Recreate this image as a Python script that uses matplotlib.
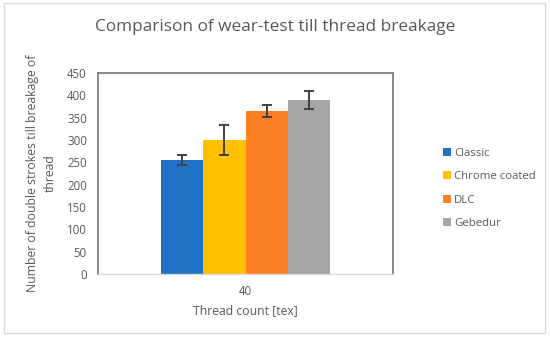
import matplotlib
matplotlib.use("Agg")
import matplotlib.pyplot as plt
from matplotlib.patches import Rectangle

categories = ["40"]
series = ["Classic", "Chrome coated", "DLC", "Gebedur"]
values = [255, 300, 365, 389]
errors = [11, 33, 13, 20]
colors = ["#1F72C6", "#FFC000", "#FF7F27", "#A5A5A5"]
yticks = [0, 50, 100, 150, 200, 250, 300, 350, 400, 450]

plt.rcParams['font.family'] = ['Open Sans', 'DejaVu Sans']
txt = "#595959"

fig = plt.figure(figsize=(5.5, 3.39), dpi=100)
fig.patches.append(Rectangle((4/550, 6/339), 541/550, 330/339, transform=fig.transFigure,
                             fill=False, edgecolor="#D9D9D9", linewidth=1))
ax = fig.add_axes([98/550, 1-274/339, 295/550, 201/339])

w = 0.1434
n = len(series)
for i, (s, v, e, c) in enumerate(zip(series, values, errors, colors)):
    x = (i - (n - 1) / 2) * w
    ax.bar(x, v, width=w, color=c, label=s, zorder=2)
    ax.errorbar(x, v, yerr=e, ecolor="#404040", elinewidth=1.4, capsize=3.5,
                capthick=1.4, fmt="none", zorder=3)

ax.set_xlim(-0.5, 0.5)
ax.set_ylim(0, 450)
ax.set_yticks(yticks)
ax.set_xticks([0])
ax.set_xticklabels(categories)
ax.tick_params(axis="y", length=0, labelsize=8.3, colors=txt, pad=8)
ax.tick_params(axis="x", length=0, labelsize=8.3, colors=txt, pad=8)
for sp in ["top", "left", "right"]:
    ax.spines[sp].set_color("#7F7F7F")
    ax.spines[sp].set_linewidth(1.3)
ax.spines["bottom"].set_color("#D9D9D9")
ax.spines["bottom"].set_linewidth(1)

ax.set_xlabel("Thread count [tex]", fontsize=8.8, color=txt, labelpad=4)
ax.set_ylabel("Number of double strokes till breakage of\nthread", fontsize=8.8,
              color=txt, labelpad=7, linespacing=1.5)
fig.text(275/550, 1-27/339, "Comparison of wear-test till thread breakage",
         ha="center", va="center", fontsize=12.4, color=txt)

leg = ax.legend(loc="upper left", bbox_to_anchor=(438/550, 1-143/339),
                bbox_transform=fig.transFigure, frameon=False, fontsize=8.2,
                handlelength=0.7, handleheight=0.7, handletextpad=0.3,
                labelspacing=1.1, borderaxespad=0)
for t in leg.get_texts():
    t.set_color(txt)

fig.savefig("out.png", dpi=100)
